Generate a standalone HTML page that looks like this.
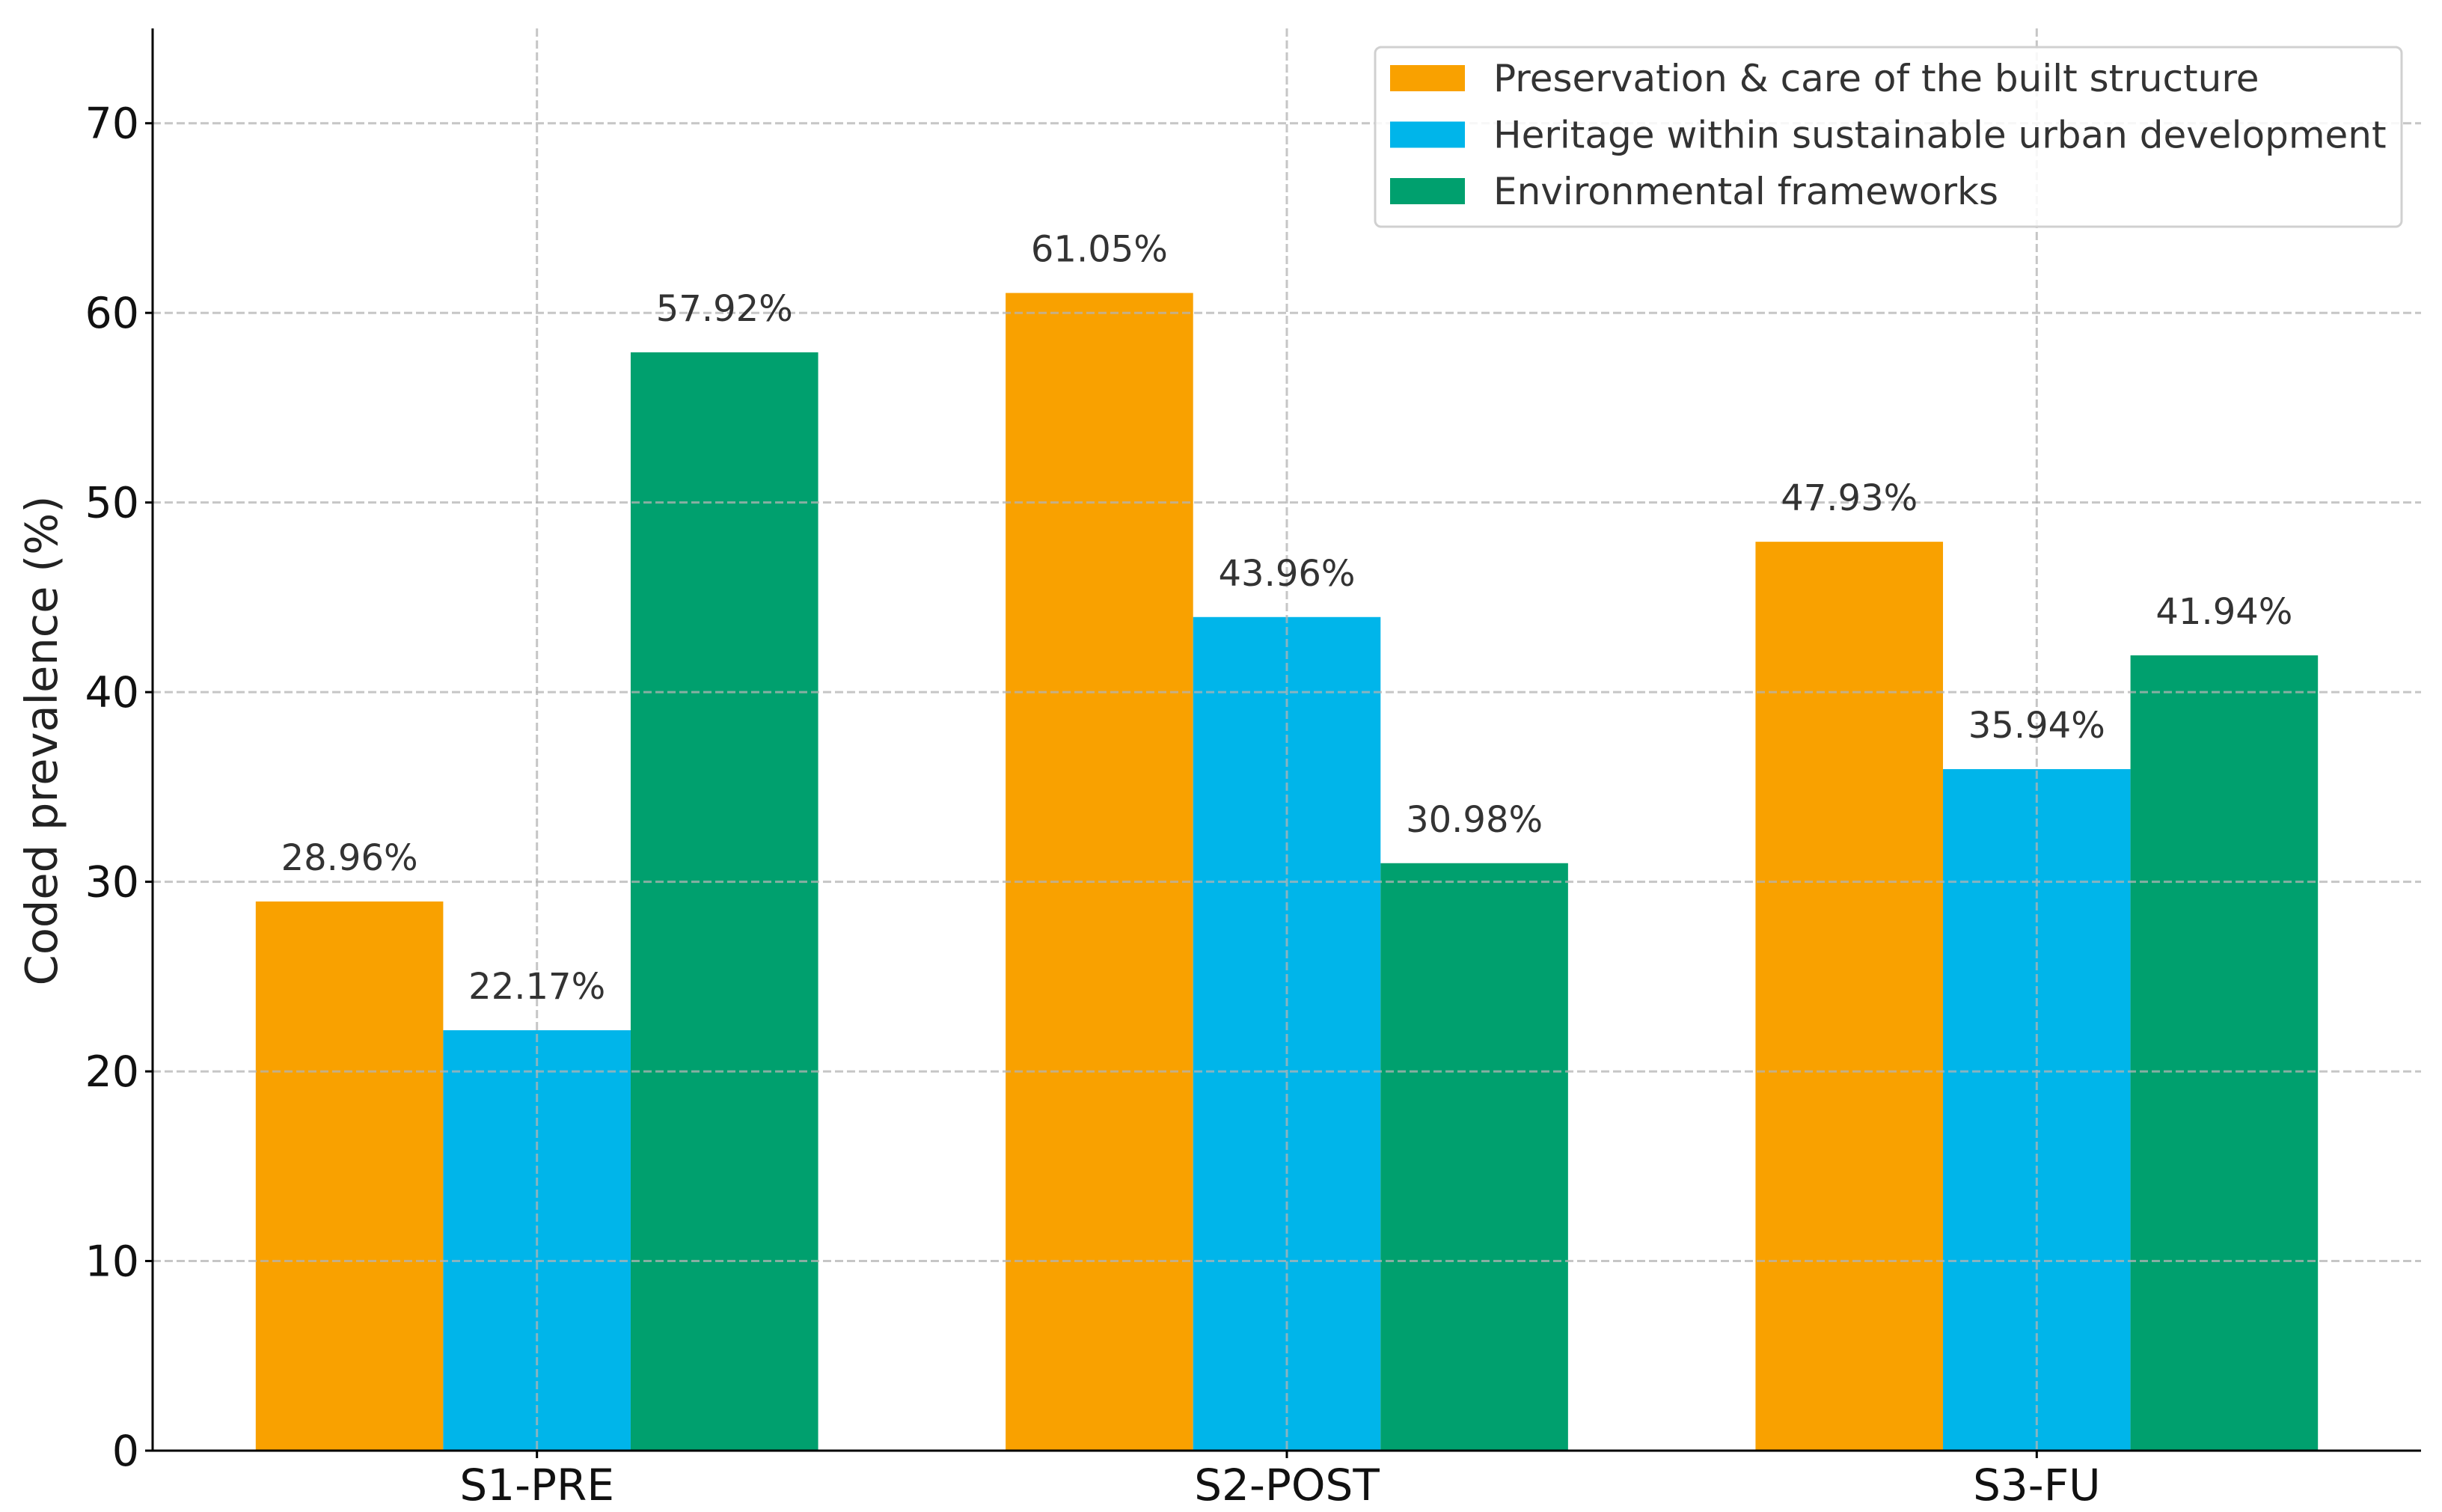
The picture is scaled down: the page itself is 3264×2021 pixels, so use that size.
<!DOCTYPE html>
<html><head><meta charset="utf-8"><style>
html,body{margin:0;padding:0;background:#fff}
svg{display:block}
text{font-family:"DejaVu Sans","Liberation Sans",sans-serif}
</style></head><body>
<svg id="chart" width="3264" height="2021" viewBox="0 0 3264 2021" xmlns="http://www.w3.org/2000/svg">
<g id="bars"></g>
<g id="grid"></g>
<g id="labels"></g>
<g id="axes"></g>
<text x="0" y="0" transform="translate(76,990) rotate(-90)" text-anchor="middle" font-size="59" fill="#222">Coded prevalence (%)</text>
<g id="legend"></g>
</svg>
<script>
const categories = ["S1-PRE", "S2-POST", "S3-FU"];
const seriesNames = ["Preservation & care of the built structure", "Heritage within sustainable urban development", "Environmental frameworks"];
const preservation = [28.96, 61.05, 47.93];
const heritage = [22.17, 43.96, 35.94];
const environmental = [57.92, 30.98, 41.94];
const yTicks = [0, 10, 20, 30, 40, 50, 60, 70];
const colors = ["#F9A100", "#00B5EA", "#00A06E"];

const series = [preservation, heritage, environmental];
const NS = "http://www.w3.org/2000/svg";
const plot = {left: 204, right: 3236, top: 38, bottom: 1939};
const yMax = 75, xMin = -0.5125, xMax = categories.length - 1 + 0.5125, barW = 0.25;
function X(v){ return plot.left + (v - xMin) / (xMax - xMin) * (plot.right - plot.left); }
function Y(v){ return plot.bottom - v / yMax * (plot.bottom - plot.top); }
function mk(tag, attrs, parent){ const e = document.createElementNS(NS, tag); for (const k in attrs) e.setAttribute(k, attrs[k]); parent.appendChild(e); return e; }

const gBars = document.getElementById('bars'), gGrid = document.getElementById('grid'), gLab = document.getElementById('labels'), gAx = document.getElementById('axes'), gLeg = document.getElementById('legend');

series.forEach((vals, s) => {
  vals.forEach((v, i) => {
    const cx = i + (s - 1) * barW;
    const r = mk('rect', {x: X(cx - barW/2), y: Y(v), width: X(cx + barW/2) - X(cx - barW/2), height: Y(0) - Y(v), fill: colors[s]}, gBars);
    
    
    const t = mk('text', {x: X(cx), y: Y(v) - 42, 'text-anchor': 'middle', 'font-size': 48, fill: '#333'}, gLab);
    t.textContent = v.toFixed(2) + '%';
    
    
  });
});

yTicks.forEach(v => {
  if (v > 0) {
    const l = mk('line', {x1: plot.left, x2: plot.right, y1: Y(v), y2: Y(v), stroke: '#b4b4b4', 'stroke-width': 3, 'stroke-dasharray': '11 5', opacity: 0.75}, gGrid);
    
    
  }
  const tk = mk('line', {x1: plot.left - 10, x2: plot.left, y1: Y(v), y2: Y(v), stroke: '#000', 'stroke-width': 3}, gAx);
  
  
  const t = mk('text', {x: plot.left - 18, y: Y(v) + 20, 'text-anchor': 'end', 'font-size': 57, fill: '#111'}, gAx);
  t.textContent = v;
  
  
});
categories.forEach((c, i) => {
  const l = mk('line', {x1: X(i), x2: X(i), y1: plot.top, y2: plot.bottom, stroke: '#b4b4b4', 'stroke-width': 3, 'stroke-dasharray': '11 5', opacity: 0.75}, gGrid);
  
  
  const tk = mk('line', {x1: X(i), x2: X(i), y1: plot.bottom, y2: plot.bottom + 10, stroke: '#000', 'stroke-width': 3}, gAx);
  
  
  const t = mk('text', {x: X(i), y: plot.bottom + 66, 'text-anchor': 'middle', 'font-size': 58, fill: '#111'}, gAx);
  t.textContent = c;
  
  
});
const ya = mk('line', {x1: plot.left, x2: plot.left, y1: plot.top, y2: plot.bottom + 1.5, stroke: '#000', 'stroke-width': 3}, gAx);


const xa = mk('line', {x1: plot.left, x2: plot.right, y1: plot.bottom, y2: plot.bottom, stroke: '#000', 'stroke-width': 3}, gAx);



const box = mk('rect', {x: 1838, y: 63, width: 1372, height: 240, rx: 8, fill: '#fff', 'fill-opacity': 0.85, stroke: '#d0d0d0', 'stroke-width': 3}, gLeg);


seriesNames.forEach((n, s) => {
  const cy = 104 + s * 75.5;
  const sw = mk('rect', {x: 1858, y: cy - 17, width: 100, height: 35, fill: colors[s]}, gLeg);
  
  
  const t = mk('text', {x: 1996, y: cy + 18, 'font-size': 50, fill: '#333'}, gLeg);
  t.textContent = n;
  
  
});
</script>
</body></html>
